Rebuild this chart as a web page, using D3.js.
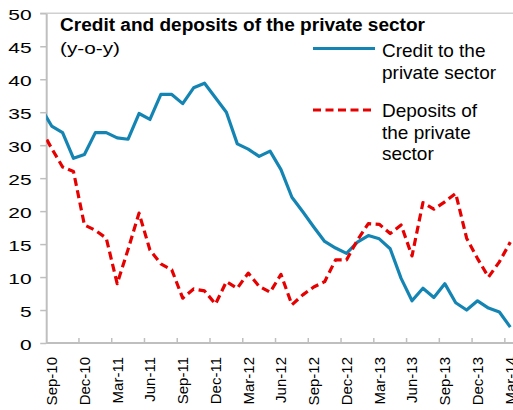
<!DOCTYPE html>
<html>
<head>
<meta charset="utf-8">
<script src="https://cdn.jsdelivr.net/npm/d3@7"></script>
<style>
  html, body { margin: 0; padding: 0; background: #fff; }
  svg { display: block; font-family: "Liberation Sans", Arial, sans-serif; }
</style>
</head>
<body>
<svg id="chart" width="513" height="410"></svg>
<script>
// Monthly y-o-y growth, Aug-10 .. Mar-14 (Aug-10 only feeds the line into the left edge)
const credit = [35.7,
  32.9, 31.9, 28.0, 28.6, 31.9, 31.9, 31.1, 30.9, 34.8, 33.9,
  37.7, 37.7, 36.3, 38.7, 39.4, 37.2, 35.0, 30.2, 29.4, 28.3,
  29.1, 26.3, 22.1, 19.9, 17.6, 15.4, 14.4, 13.6, 15.3, 16.3,
  15.8, 14.3, 9.8, 6.4, 8.3, 6.9, 9.0, 6.1, 5.0, 6.4,
  5.3, 4.7, 2.4];
const deposits = [32.5,
  29.5, 26.7, 26.0, 17.9, 17.1, 15.9, 9.0, 14.2, 19.7, 14.1,
  12.0, 11.1, 6.8, 8.2, 7.9, 5.9, 9.3, 8.3, 10.6, 8.6,
  7.7, 10.4, 5.8, 7.3, 8.5, 9.3, 12.6, 12.6, 15.6, 18.1,
  18.0, 16.6, 17.9, 13.2, 21.3, 20.3, 21.4, 22.7, 15.9, 12.8,
  10.0, 12.3, 15.3];
const tickLabels = ["Sep-10","Dec-10","Mar-11","Jun-11","Sep-11","Dec-11","Mar-12",
  "Jun-12","Sep-12","Dec-12","Mar-13","Jun-13","Sep-13","Dec-13","Mar-14"];
const yTicks = [0, 5, 10, 15, 20, 25, 30, 35, 40, 45, 50];
const seriesNames = [["Credit to the", "private sector"], ["Deposits of", "the private", "sector"]];
const title = "Credit and deposits of the private sector";
const subtitle = "(y-o-y)";

const svg = d3.select("#chart");
const W = 513;
const plotLeft = 46.2, nCats = 43, catW = 10.92;
const plotBottom = 343, plotTop = 13.3;

// category axis: 0 = left edge of Sep-10; value index i sits at centre of category i-1
const x = d3.scaleLinear().domain([0, nCats]).range([plotLeft, plotLeft + nCats * catW]);
const y = d3.scaleLinear().domain([0, 50]).range([plotBottom, plotTop]);
const px = i => x(i - 1 + 0.5);

const axisColor = "#bfbfbf";
const blue = "#1485b3";
const red = "#e60000";

// top border line at 50
svg.append("line")
  .attr("x1", plotLeft - 6).attr("x2", W)
  .attr("y1", y(50)).attr("y2", y(50))
  .attr("stroke", "#d0d0d0").attr("stroke-width", 1.5);

// y axis
const yAxis = svg.append("g")
  .attr("transform", `translate(${plotLeft},0)`)
  .call(d3.axisLeft(y).tickValues(yTicks).tickSize(6).tickSizeOuter(0));
yAxis.select(".domain").attr("stroke", axisColor).attr("stroke-width", 2);
yAxis.selectAll(".tick line").attr("stroke", axisColor).attr("stroke-width", 1.5);
yAxis.selectAll(".tick text")
  .attr("x", null).attr("dy", null)
  .attr("transform", "translate(-14.5,6) scale(1.4,1)")
  .attr("fill", "#000")
  .style("font-size", "15px")
  .style("font-family", "'Liberation Sans', Arial, sans-serif");

// x axis line
svg.append("line")
  .attr("x1", plotLeft).attr("x2", W)
  .attr("y1", plotBottom).attr("y2", plotBottom)
  .attr("stroke", axisColor).attr("stroke-width", 2);

// x tick marks (inside), every third category boundary
const tickIdx = tickLabels.map((d, k) => k * 3);
svg.append("g").selectAll("line")
  .data(tickIdx.filter(k => k > 0))
  .join("line")
  .attr("x1", d => x(d)).attr("x2", d => x(d))
  .attr("y1", plotBottom).attr("y2", plotBottom - 5)
  .attr("stroke", axisColor).attr("stroke-width", 1.5);

// x labels, rotated, centred on their category
svg.append("g").selectAll("text")
  .data(tickLabels)
  .join("text")
  .attr("transform", (d, k) => `translate(${x(k * 3 + 0.5)},${plotBottom + 14}) rotate(-90)`)
  .attr("text-anchor", "end")
  .attr("dy", "0.36em")
  .attr("font-size", 15)
  .attr("fill", "#000")
  .text(d => d);

// plot clip
svg.append("clipPath").attr("id", "plotClip")
  .append("rect")
  .attr("x", plotLeft).attr("y", 0)
  .attr("width", W - plotLeft).attr("height", plotBottom + 5);

const line = d3.line().x((d, i) => px(i)).y(d => y(d));
const plot = svg.append("g").attr("clip-path", "url(#plotClip)");

plot.append("path")
  .datum(credit)
  .attr("d", line)
  .attr("fill", "none")
  .attr("stroke", blue)
  .attr("stroke-width", 3.2)
  .attr("stroke-linejoin", "round");

plot.append("path")
  .datum(deposits)
  .attr("d", line)
  .attr("fill", "none")
  .attr("stroke", red)
  .attr("stroke-width", 3.2)
  .attr("stroke-dasharray", "8,4.5")
  .attr("stroke-linejoin", "round");

// title
svg.append("text")
  .attr("x", 60).attr("y", 30.5)
  .attr("font-size", 17.5)
  .attr("font-weight", "bold")
  .attr("textLength", 365)
  .attr("lengthAdjust", "spacingAndGlyphs")
  .attr("fill", "#000")
  .text(title);
svg.append("text")
  .attr("x", 60).attr("y", 53.5)
  .attr("font-size", 16.5)
  .attr("textLength", 60)
  .attr("lengthAdjust", "spacingAndGlyphs")
  .attr("fill", "#000")
  .text(subtitle);

// legend
const legend = svg.append("g");
const legendItems = [
  { color: blue, dash: null, lineY: 48.5, lines: seriesNames[0], baseY: 57 },
  { color: red, dash: "8,4.5", lineY: 110, lines: seriesNames[1], baseY: 117 }
];
legendItems.forEach(item => {
  legend.append("line")
    .attr("x1", 313).attr("x2", 375)
    .attr("y1", item.lineY).attr("y2", item.lineY)
    .attr("stroke", item.color)
    .attr("stroke-width", 3.2)
    .attr("stroke-dasharray", item.dash);
  legend.append("text")
    .attr("x", 382).attr("y", item.baseY)
    .attr("font-size", 19)
    .attr("fill", "#000")
    .selectAll("tspan")
    .data(item.lines)
    .join("tspan")
    .attr("x", 382)
    .attr("dy", (d, i) => i === 0 ? 0 : 21.7)
    .text(d => d);
});
</script>
</body>
</html>
